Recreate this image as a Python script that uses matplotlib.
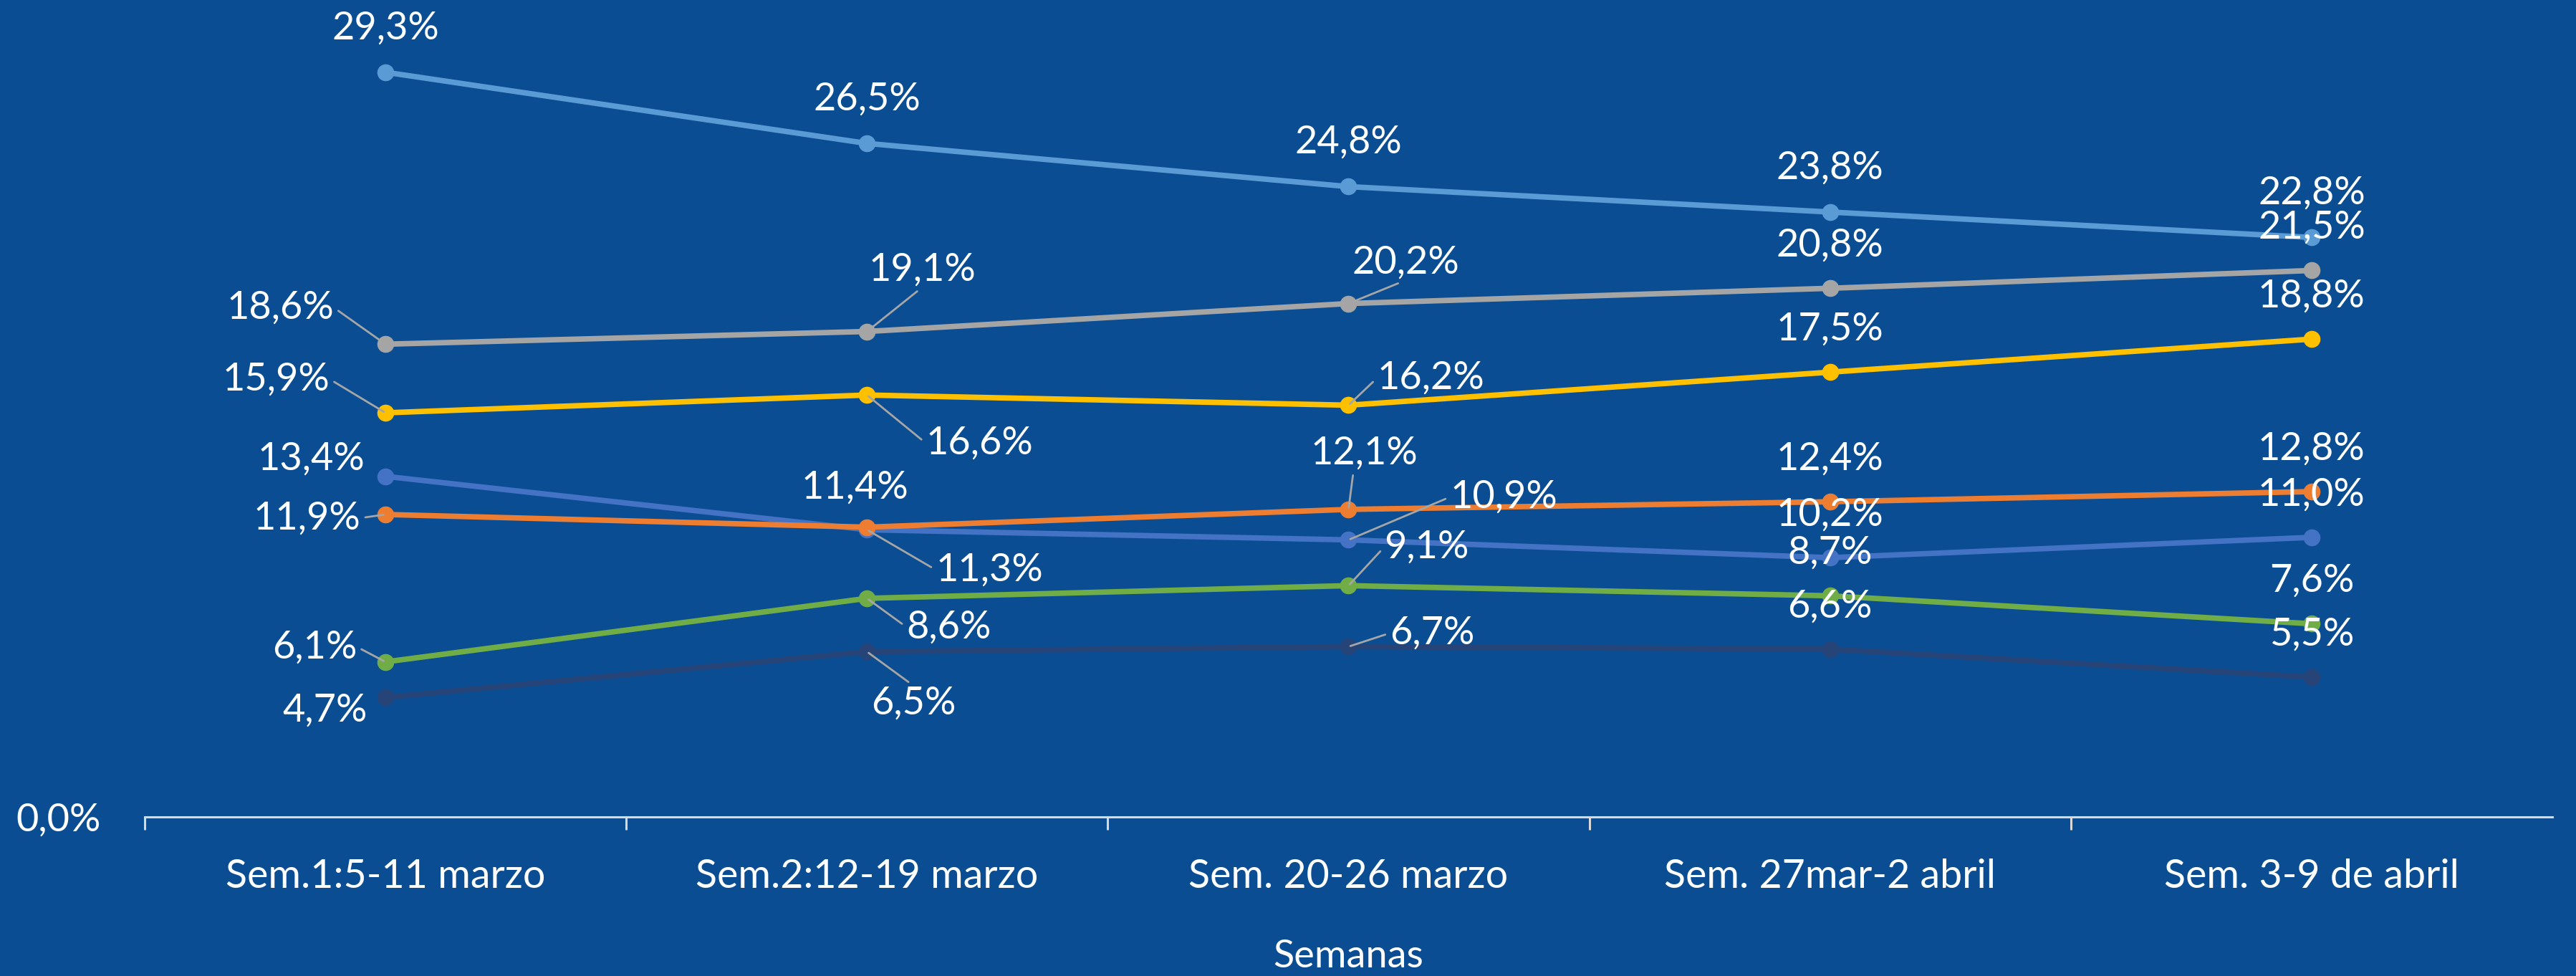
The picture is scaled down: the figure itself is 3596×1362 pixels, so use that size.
import matplotlib
matplotlib.use('Agg')
import matplotlib.pyplot as plt
import numpy as np

plt.rcParams['font.family'] = ['Lato', 'DejaVu Sans']

semanas = ['Sem.1:5-11 marzo', 'Sem.2:12-19 marzo', 'Sem. 20-26 marzo',
           'Sem. 27mar-2 abril', 'Sem. 3-9 de abril']

# porcentajes por semana (una lista por serie)
serie_1 = [13.4, 11.3, 10.9, 10.2, 11.0]
serie_2 = [11.9, 11.4, 12.1, 12.4, 12.8]
serie_3 = [18.6, 19.1, 20.2, 20.8, 21.5]
serie_4 = [15.9, 16.6, 16.2, 17.5, 18.8]
serie_5 = [29.3, 26.5, 24.8, 23.8, 22.8]
serie_6 = [6.1, 8.6, 9.1, 8.7, 7.6]
serie_7 = [4.7, 6.5, 6.7, 6.6, 5.5]

series = [serie_1, serie_2, serie_3, serie_4, serie_5, serie_6, serie_7]
colores = ['#4472C4', '#ED7D31', '#A5A5A5', '#FFC000', '#5B9BD5', '#70AD47', '#264478']

# label placement (offset pixels dx, dy, ha, leader relpos or None)
A = (0, 60, 'center', None)
pos_etiquetas = [
    [(-29, 25, 'right', None), (96, -56, 'left', (0, 0.5)), (142, 60, 'left', (0, 0.5)), A, A],
    [(-35, -5, 'right', (1, 0.5)), (-17, 56, 'center', None), (22, 79, 'center', (0.4, 0)), A, A],
    [(-72, 51, 'right', (1, 0.5)), (2, 86, 'left', (0.5, 0)), (5, 57, 'left', (0.5, 0)), A, A],
    [(-78, 47, 'right', (1, 0.5)), (82, -67, 'left', (0, 0.5)), (40, 38, 'left', (0, 0.5)), A, A],
    [(0, 62, 'center', None)] * 5,
    [(-40, 21, 'right', (1, 0.5)), (55, -40, 'left', (0, 0.5)), (50, 54, 'left', (0, 0.5)), A, A],
    [(-25, -18, 'right', None), (65, -72, 'center', (0.5, 1)), (58, 19, 'left', (0, 0.5)), A, A],
]

fondo = '#0A4D93'
fig = plt.figure(figsize=(35.96, 13.62), dpi=100, facecolor=fondo)
ax = fig.add_axes([0.05617, 0.163, 0.93465, 0.7812])
ax.set_facecolor(fondo)

x = np.arange(len(semanas))
for vals, col in zip(series, colores):
    ax.plot(x, vals, color=col, lw=5.5, marker='o', ms=16, solid_capstyle='round', zorder=3)

for vals, specs in zip(series, pos_etiquetas):
    for xi, v, (dx, dy, ha, rp) in zip(x, vals, specs):
        txt = f'{v:.1f}%'.replace('.', ',')
        kw = {}
        if rp is not None:
            kw['arrowprops'] = dict(arrowstyle='-', color='#A6A6A6', lw=2,
                                    shrinkA=3, shrinkB=2, relpos=rp)
        ax.annotate(txt, (xi, v), xytext=(dx, dy), textcoords='offset pixels',
                    ha=ha, va='center', color='white', fontsize=39,
                    annotation_clip=False, zorder=5, **kw)

ax.set_xlim(-0.5, len(semanas) - 0.5)
ax.set_ylim(0, 30)

for s in ['top', 'right', 'left']:
    ax.spines[s].set_visible(False)
ax.spines['bottom'].set_color('#D9D9D9')
ax.spines['bottom'].set_linewidth(2.2)

ax.set_xticks(x)
ax.set_xticklabels(semanas, color='white', fontsize=40)
ax.set_xticks(np.arange(-0.5, len(semanas) - 1), minor=True)
ax.tick_params(axis='x', which='major', length=0, pad=42)
ax.tick_params(axis='x', which='minor', length=13, width=2.2, color='#D9D9D9', direction='out')

ax.set_yticks([0])
ax.set_yticklabels(['0,0%'], color='white', fontsize=39)
ax.tick_params(axis='y', length=0, pad=44)

ax.set_xlabel('Semanas', color='white', fontsize=39, labelpad=44)

fig.savefig('out.png', dpi=100, facecolor=fondo)
